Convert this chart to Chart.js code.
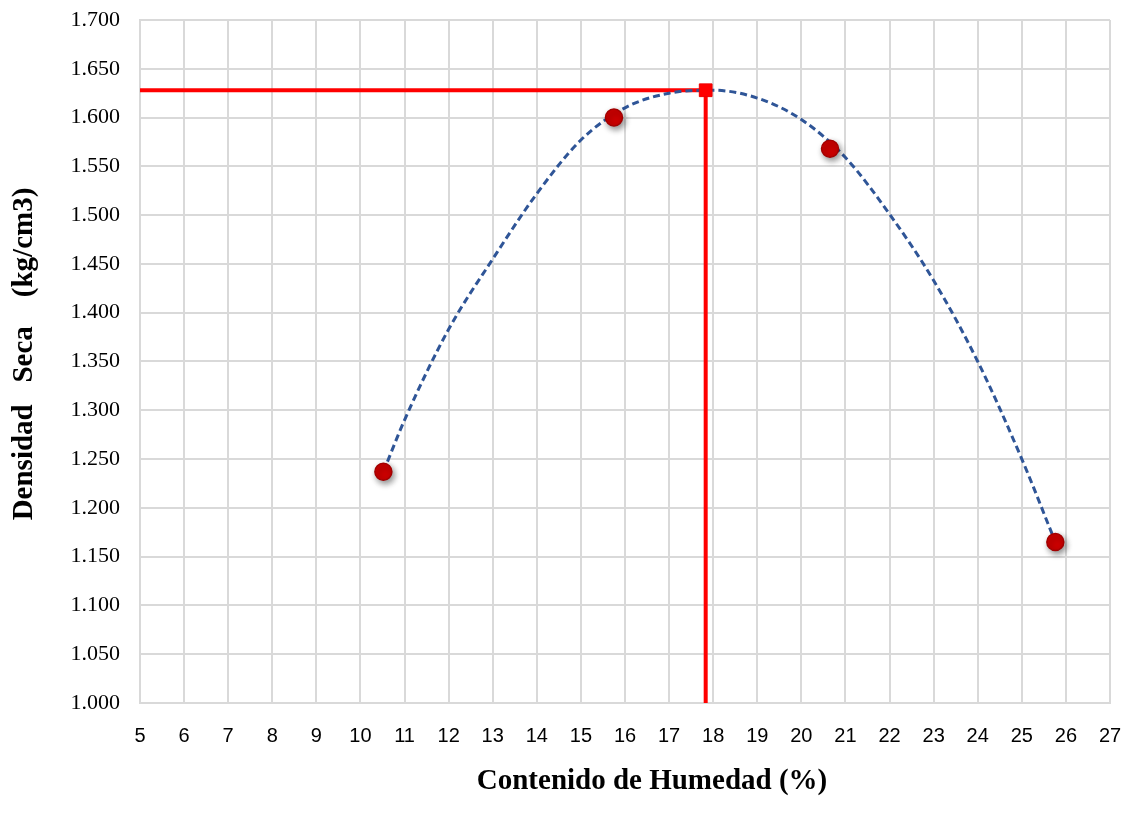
<!DOCTYPE html>
<html>
<head>
<meta charset="utf-8">
<script src="https://cdn.jsdelivr.net/npm/chart.js@4.4.1/dist/chart.umd.min.js"></script>
<style>
  html, body { margin: 0; padding: 0; background: #ffffff; }
  #wrap { width: 1147px; height: 821px; position: relative; }
</style>
</head>
<body>
<div id="wrap"><canvas id="c" width="1147" height="821"></canvas></div>
<script>
// Compaction test: moisture content (%) vs dry density (kg/cm3)
const moisture = [10.52, 15.75, 20.65, 25.76];
const dryDensity = [1.237, 1.600, 1.568, 1.165];

// Polynomial trend line, sampled along its path
const trendMoisture = [10.52, 11, 12, 13, 14, 15, 16, 17, 18, 19, 20, 21, 22, 23, 24, 25, 25.76];
const trendDensity  = [1.237, 1.290, 1.383, 1.455, 1.522, 1.577, 1.610, 1.625, 1.628, 1.620, 1.598, 1.559, 1.501, 1.433, 1.350, 1.250, 1.165];

// Optimum moisture content and maximum dry density
const optimumMoisture = 17.83;
const maxDensity = 1.628;

// Axis ranges and tick steps
const xRange = [5, 27];
const xStep = 1;
const yRange = [1.000, 1.700];
const yStep = 0.05;

const xTitle = 'Contenido de Humedad (%)';
const yTitle = 'Densidad   Seca    (kg/cm3)';

const pts = (xs, ys) => xs.map((x, i) => ({ x: x, y: ys[i] }));

const PLOT = { left: 140, right: 1110, top: 20, bottom: 703 };

const shadowPlugin = {
  id: 'pointShadow',
  beforeDatasetDraw(chart, args) {
    if (chart.data.datasets[args.index].shadow) {
      const ctx = chart.ctx;
      ctx.save();
      ctx.shadowColor = 'rgba(0,0,0,0.45)';
      ctx.shadowBlur = 6;
      ctx.shadowOffsetX = 2;
      ctx.shadowOffsetY = 3;
    }
  },
  afterDatasetDraw(chart, args) {
    if (chart.data.datasets[args.index].shadow) chart.ctx.restore();
  }
};

const titlePlugin = {
  id: 'axisTitles',
  afterDraw(chart) {
    const ctx = chart.ctx;
    ctx.save();
    ctx.fillStyle = '#000000';
    ctx.textAlign = 'center';
    ctx.textBaseline = 'middle';
    ctx.font = 'bold 29px "Liberation Serif", "Times New Roman", serif';
    ctx.fillText(xTitle, 652, 782);
    ctx.translate(25, 354);
    ctx.rotate(-Math.PI / 2);
    ctx.fillText(yTitle, 0, 0);
    ctx.restore();
  }
};

new Chart(document.getElementById('c'), {
  type: 'scatter',
  data: {
    datasets: [
      {
        label: 'Densidad máxima',
        data: [{ x: xRange[0], y: maxDensity }, { x: optimumMoisture, y: maxDensity }],
        showLine: true,
        borderColor: '#ff0000',
        borderWidth: 4,
        pointRadius: 0,
        order: 4
      },
      {
        label: 'Humedad óptima',
        data: [{ x: optimumMoisture, y: maxDensity }, { x: optimumMoisture, y: yRange[0] }],
        showLine: true,
        borderColor: '#ff0000',
        borderWidth: 4,
        pointRadius: 0,
        order: 3
      },
      {
        label: 'Tendencia',
        data: pts(trendMoisture, trendDensity),
        showLine: true,
        borderColor: '#2f5597',
        borderWidth: 3,
        borderDash: [7, 4],
        cubicInterpolationMode: 'monotone',
        pointRadius: 0,
        order: 2
      },
      {
        label: 'Óptimo',
        data: [{ x: optimumMoisture, y: maxDensity }],
        pointStyle: 'rect',
        pointRadius: 9,
        backgroundColor: '#ff0000',
        borderColor: '#ee0000',
        borderWidth: 1,
        order: 1
      },
      {
        label: 'Ensayos',
        data: pts(moisture, dryDensity),
        shadow: true,
        pointRadius: 8.5,
        backgroundColor: '#cc0000',
        borderColor: '#a30000',
        borderWidth: 1.5,
        order: 0
      }
    ]
  },
  options: {
    responsive: false,
    animation: false,
    layout: { padding: { top: PLOT.top, right: 1147 - PLOT.right, left: 0, bottom: 0 } },
    plugins: { legend: { display: false }, tooltip: { enabled: false } },
    scales: {
      x: {
        type: 'linear',
        min: xRange[0],
        max: xRange[1],
        ticks: {
          stepSize: xStep,
          padding: 21,
          color: '#000000',
          font: { family: '"Liberation Sans", Arial, sans-serif', size: 20 },
          maxRotation: 0,
          autoSkip: false
        },
        grid: { color: '#d9d9d9', lineWidth: 2, drawTicks: false },
        border: { color: '#d9d9d9', width: 2 },
        afterFit(scale) { scale.height = 821 - PLOT.bottom; }
      },
      y: {
        type: 'linear',
        min: yRange[0],
        max: yRange[1],
        ticks: {
          stepSize: yStep,
          padding: 20,
          color: '#000000',
          font: { family: '"Liberation Serif", "Times New Roman", serif', size: 22 },
          callback: v => v.toFixed(3)
        },
        grid: { color: '#d9d9d9', lineWidth: 2, drawTicks: false },
        border: { color: '#d9d9d9', width: 2 },
        afterFit(scale) {
          scale.width = PLOT.left;
          scale.paddingTop = 0;
          scale.paddingBottom = 0;
        }
      }
    }
  },
  plugins: [shadowPlugin, titlePlugin]
});
</script>
</body>
</html>
